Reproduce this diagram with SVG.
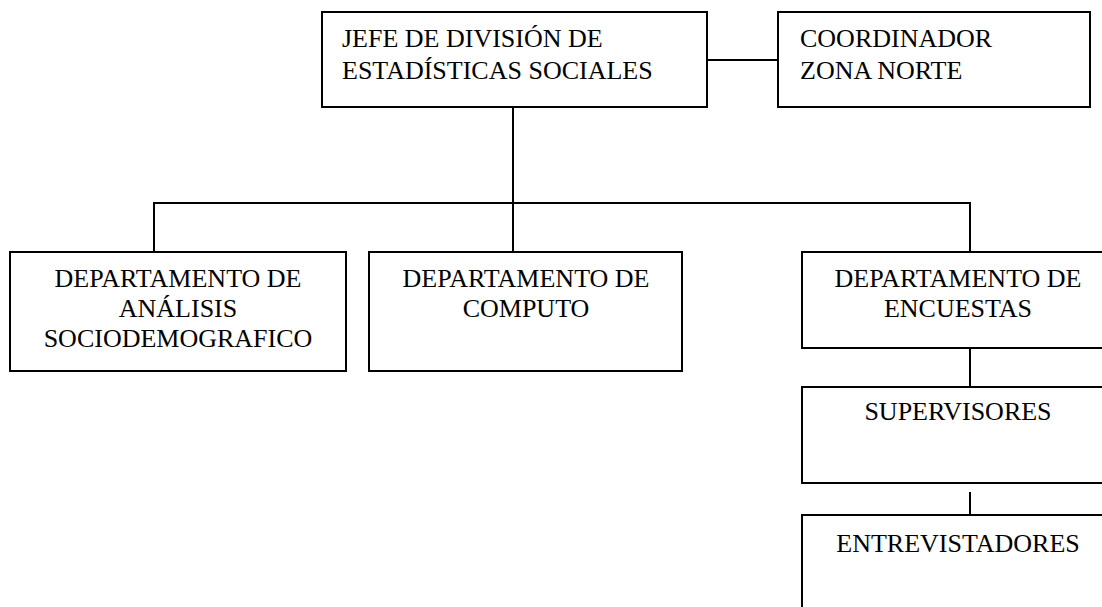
<svg xmlns="http://www.w3.org/2000/svg" width="1102" height="607" viewBox="0 0 1102 607">
<style>
.box{fill:#fff;stroke:#000;stroke-width:2}
.c{fill:none;stroke:#000;stroke-width:2}
text{font-family:"Liberation Serif","Times New Roman",serif;font-size:26px;fill:#000}
.m{text-anchor:middle}
</style>
<rect width="1102" height="607" fill="#fff"/>
<g id="connectors">
<line class="c" x1="707" y1="60" x2="778" y2="60"/>
<line class="c" x1="513" y1="107" x2="513" y2="252"/>
<polyline class="c" points="154,252 154,203 970,203 970,252"/>
<line class="c" x1="970" y1="348" x2="970" y2="387"/>
<line class="c" x1="970" y1="492" x2="970" y2="515"/>
</g>
<g id="jefe">
<rect class="box" x="322" y="12" width="385" height="95"/>
<text x="342" y="47">JEFE DE DIVISIÓN DE</text>
<text x="342" y="79">ESTADÍSTICAS SOCIALES</text>
</g>
<g id="coordinador">
<rect class="box" x="778" y="12" width="312" height="95"/>
<text x="800" y="47">COORDINADOR</text>
<text x="800" y="79">ZONA NORTE</text>
</g>
<g id="analisis">
<rect class="box" x="10" y="252" width="336" height="119"/>
<text class="m" x="178" y="287">DEPARTAMENTO DE</text>
<text class="m" x="178" y="317">ANÁLISIS</text>
<text class="m" x="178" y="347">SOCIODEMOGRAFICO</text>
</g>
<g id="computo">
<rect class="box" x="369" y="252" width="313" height="119"/>
<text class="m" x="526" y="287">DEPARTAMENTO DE</text>
<text class="m" x="526" y="317">COMPUTO</text>
</g>
<g id="encuestas">
<rect class="box" x="802" y="252" width="312" height="96"/>
<text class="m" x="958" y="287">DEPARTAMENTO DE</text>
<text class="m" x="958" y="317">ENCUESTAS</text>
</g>
<g id="supervisores">
<rect class="box" x="802" y="387" width="312" height="96"/>
<text class="m" x="958" y="420">SUPERVISORES</text>
</g>
<g id="entrevistadores">
<rect class="box" x="802" y="515" width="312" height="110"/>
<text class="m" x="958" y="552">ENTREVISTADORES</text>
</g>
</svg>
